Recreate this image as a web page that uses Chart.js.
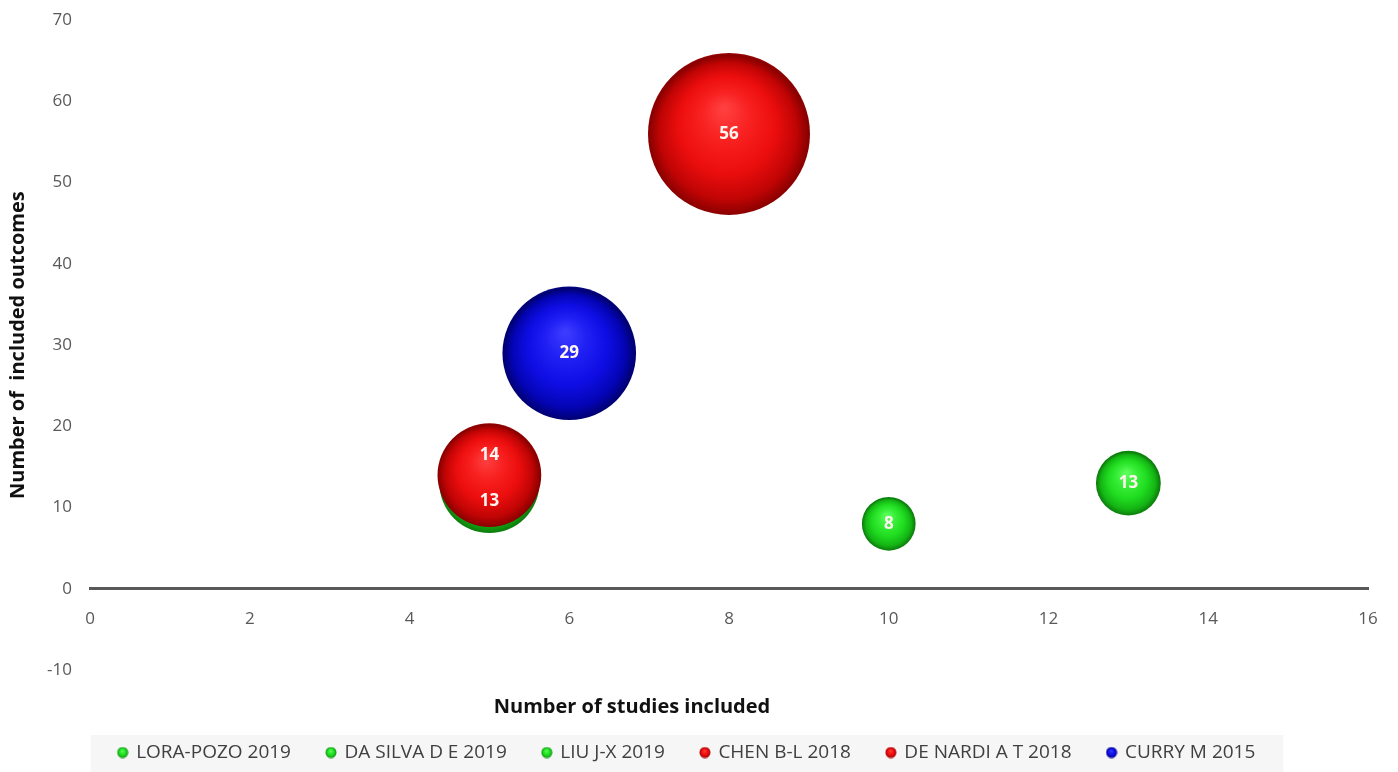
<!DOCTYPE html>
<html>
<head>
<meta charset="utf-8">
<title>Included studies vs included outcomes</title>
<script src="https://cdn.jsdelivr.net/npm/chart.js@4/dist/chart.umd.min.js"></script>
<style>
  html, body { margin: 0; padding: 0; background: #ffffff; }
  #wrap { width: 1398px; height: 772px; }
</style>
</head>
<body>
<div id="wrap"><canvas id="chart" width="1398" height="772"></canvas></div>
<script>
// Reviews, one bubble each
const reviews = ['LORA-POZO 2019', 'DA SILVA D E 2019', 'LIU J-X 2019', 'CHEN B-L 2018', 'DE NARDI A T 2018', 'CURRY M 2015'];
// Number of studies included (x)
const studiesIncluded = [5, 10, 13, 8, 5, 6];
// Number of included outcomes (y)
const outcomesIncluded = [13, 8, 13, 56, 14, 29];
// Relative bubble weight (area scale, largest = 100)
const bubbleWeight = [38, 11, 16, 100, 41, 68];
// Colour family per review
const colourFamily = ['green', 'green', 'green', 'red', 'red', 'blue'];
// Axis ticks
const xTicks = [0, 2, 4, 6, 8, 10, 12, 14, 16];
const yTicks = [-10, 0, 10, 20, 30, 40, 50, 60, 70];

const palette = {
  red:   { hi: '#ff4040', lite: '#f82020', base: '#ec0e0e', dark: '#c00404', deep: '#880000', rim: '#a00808' },
  blue:  { hi: '#3c3cff', lite: '#2020f4', base: '#0e0ee4', dark: '#0404b4', deep: '#000070', rim: '#08088e' },
  green: { hi: '#60ff60', lite: '#38ee38', base: '#20dc20', dark: '#14b414', deep: '#0c7a0c', rim: '#18a018' }
};

const MAX_RADIUS = 81;
const radiusFor = w => MAX_RADIUS * Math.sqrt(w / 100);

// Shaded sphere: soft light from above, darkening towards the rim
function sphereFill(g, x, y, r, c) {
  const grad = g.createRadialGradient(x - r * 0.06, y - r * 0.32, r * 0.02, x, y + r * 0.04, r * 1.05);
  grad.addColorStop(0, c.hi);
  grad.addColorStop(0.28, c.lite);
  grad.addColorStop(0.56, c.base);
  grad.addColorStop(0.8, c.dark);
  grad.addColorStop(0.94, c.deep);
  grad.addColorStop(1, c.rim);
  return grad;
}

// Small shaded dot used as the legend marker
function legendDot(c) {
  const cv = document.createElement('canvas');
  cv.width = 12; cv.height = 12;
  const g = cv.getContext('2d');
  g.fillStyle = sphereFill(g, 6, 6, 5.5, c);
  g.beginPath(); g.arc(6, 6, 5.5, 0, Math.PI * 2); g.fill();
  return cv;
}

// Label nudges so the two overlapping bubbles at x = 5 stay readable
const labelNudge = [18, 0, 0, 0, -20, 0];

const datasets = reviews.map((name, i) => ({
  label: name,
  order: reviews.length - i,   // later reviews drawn on top
  data: [{ x: studiesIncluded[i], y: outcomesIncluded[i], r: radiusFor(bubbleWeight[i]) }],
  borderWidth: 0,
  backgroundColor: (ctx) => {
    const chart = ctx.chart;
    const c = palette[colourFamily[i]];
    if (!chart.chartArea || !ctx.raw) return c.base;
    const px = chart.scales.x.getPixelForValue(ctx.raw.x);
    const py = chart.scales.y.getPixelForValue(ctx.raw.y);
    return sphereFill(chart.ctx, px, py, ctx.raw.r, c);
  }
}));

const valueLabels = {
  id: 'valueLabels',
  afterDatasetsDraw(chart) {
    const g = chart.ctx;
    g.save();
    g.font = 'bold 17px "Open Sans", sans-serif';
    g.fillStyle = '#fff4f0';
    g.textAlign = 'center';
    g.textBaseline = 'middle';
    chart.data.datasets.forEach((ds, i) => {
      const el = chart.getDatasetMeta(i).data[0];
      if (!el) return;
      g.fillText(String(ds.data[0].y), el.x, el.y + labelNudge[i]);
    });
    g.restore();
  }
};

// Light band behind the legend row
const legendBand = {
  id: 'legendBand',
  beforeDraw(chart) {
    const lg = chart.legend;
    if (!lg || !lg.legendHitBoxes || !lg.legendHitBoxes.length) return;
    const boxes = lg.legendHitBoxes;
    const left = Math.min(...boxes.map(b => b.left)) - 28;
    const right = Math.max(...boxes.map(b => b.left + b.width)) + 28;
    const top = Math.min(...boxes.map(b => b.top)) - 8;
    const g = chart.ctx;
    g.save();
    g.fillStyle = '#f6f6f6';
    g.fillRect(left, top, right - left, chart.height - top);
    g.restore();
  }
};

// Centre the horizontal-axis title under x = 632 px
const titleCentre = {
  id: 'titleCentre',
  afterLayout(chart) {
    const tb = chart.titleBlock;
    if (!tb) return;
    tb.left = 0;
    tb.right = 1264;
    tb.width = 1264;
  }
};

const tickFont = { family: '"Open Sans", sans-serif', size: 17 };
const titleFont = { family: '"Open Sans", sans-serif', size: 20, weight: 'bold' };

new Chart(document.getElementById('chart'), {
  type: 'bubble',
  data: { datasets },
  plugins: [legendBand, valueLabels, titleCentre],
  options: {
    responsive: false,
    animation: false,
    events: [],
    layout: { autoPadding: false, padding: { left: 6, right: 30, top: 18, bottom: 0 } },
    scales: {
      x: {
        type: 'linear',
        min: xTicks[0],
        max: xTicks[xTicks.length - 1],
        position: { y: 0 },
        afterBuildTicks: (s) => { s.ticks = xTicks.map(v => ({ value: v })); },
        ticks: { color: '#595959', font: tickFont, padding: 12, autoSkip: false, maxRotation: 0 },
        grid: { display: false },
        border: { display: true, color: '#595959', width: 3 }
      },
      y: {
        type: 'linear',
        min: yTicks[0],
        max: yTicks[yTicks.length - 1],
        afterBuildTicks: (s) => { s.ticks = yTicks.map(v => ({ value: v })); },
        afterFit: (s) => { s.width = 84; },
        ticks: { color: '#595959', font: tickFont, padding: 10 },
        grid: { display: false },
        border: { display: false },
        title: {
          display: true,
          text: 'Number of  included outcomes',
          color: '#111111',
          font: titleFont,
          padding: { top: 0, bottom: 0 }
        }
      }
    },
    plugins: {
      tooltip: { enabled: false },
      title: {
        display: true,
        position: 'bottom',
        weight: 500,
        text: 'Number of studies included',
        color: '#111111',
        font: titleFont,
        padding: { top: 25, bottom: -12 }
      },
      legend: {
        position: 'bottom',
        labels: {
          color: '#404040',
          font: { family: '"Open Sans", sans-serif', size: 19 },
          padding: 36,
          boxWidth: 8,
          boxHeight: 12,
          usePointStyle: true,
          generateLabels: (chart) => chart.data.datasets.map((ds, i) => ({
            text: ds.label,
            pointStyle: legendDot(palette[colourFamily[i]]),
            fillStyle: palette[colourFamily[i]].base,
            strokeStyle: 'transparent',
            lineWidth: 0,
            fontColor: '#404040',
            datasetIndex: i,
            hidden: false
          }))
        }
      }
    }
  }
});
</script>
</body>
</html>
